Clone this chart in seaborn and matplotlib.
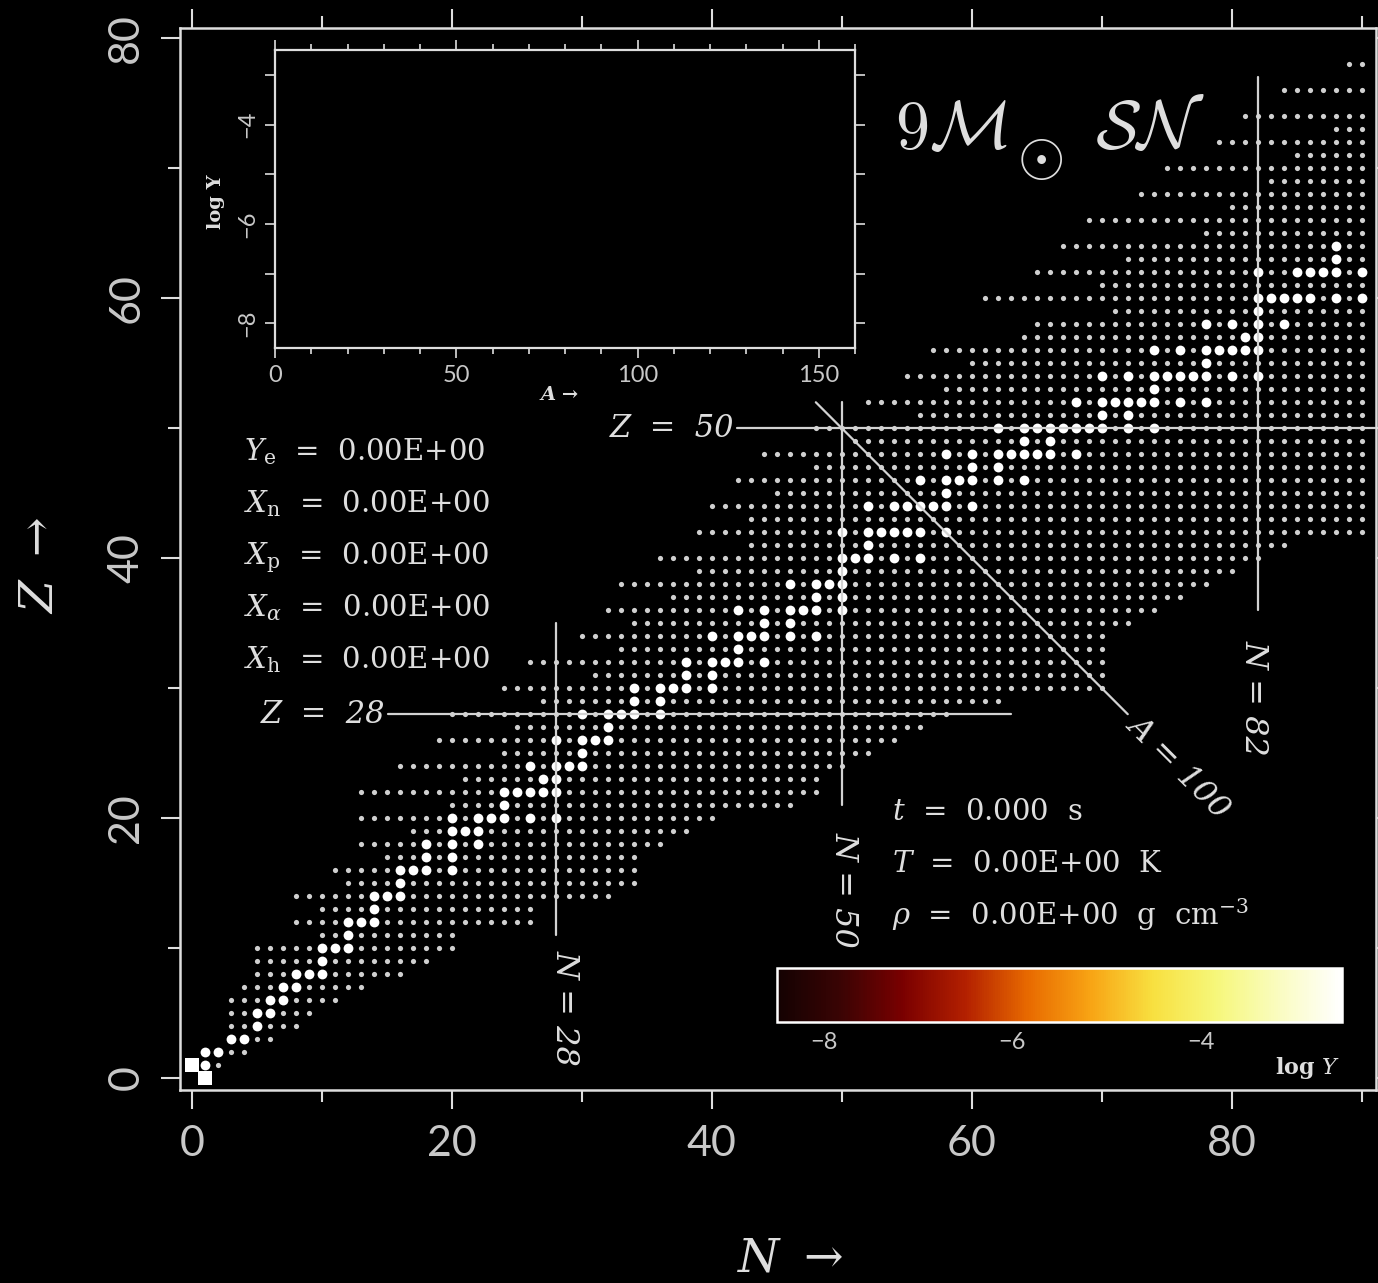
import numpy as np
import pandas as pd
import matplotlib
matplotlib.use("Agg")
import matplotlib.pyplot as plt
import seaborn as sns
from matplotlib.colors import LinearSegmentedColormap, Normalize
from matplotlib.cm import ScalarMappable
from matplotlib.ticker import MultipleLocator, FixedLocator

# ---------------- data ----------------
# network extent: for each proton number Z, lowest and highest neutron number N
ROW_Z = [1, 2, 3, 4, 5, 6, 7, 8, 9, 10, 11, 12, 13, 14, 15, 16, 17, 18, 19, 20,
         21, 22, 23, 24, 25, 26, 27, 28, 29, 30, 31, 32, 33, 34, 35, 36, 37, 38, 39, 40,
         41, 42, 43, 44, 45, 46, 47, 48, 49, 50, 51, 52, 53, 54, 55, 56, 57, 58, 59, 60,
         61, 62, 63, 64, 65, 66, 67, 68, 69, 70, 71, 72, 73, 74, 76, 78]
ROW_NMIN = [1, 1, 3, 3, 3, 3, 4, 5, 5, 5, 10, 8, 10, 8, 12, 11, 15, 13, 17, 13,
            20, 13, 21, 16, 24, 19, 25, 20, 27, 24, 31, 26, 33, 30, 34, 32, 37, 33, 39, 36,
            43, 39, 43, 40, 45, 42, 48, 44, 51, 48, 56, 52, 58, 55, 60, 57, 64, 65, 71, 61,
            70, 65, 72, 67, 78, 69, 80, 73, 83, 75, 85, 79, 88, 81, 84, 89]
ROW_NMAX = [2, 4, 6, 8, 9, 11, 13, 16, 18, 20, 20, 26, 26, 32, 34, 34, 34, 36, 38, 40,
            46, 48, 48, 50, 52, 54, 56, 58, 62, 70, 70, 70, 70, 70, 72, 74, 76, 78, 80, 82,
            84, 90, 90, 90, 90, 90, 90, 90, 90, 90, 90, 90, 90, 90, 90, 90, 90, 90, 90, 90,
            90, 90, 90, 90, 90, 90, 90, 90, 90, 90, 90, 90, 90, 90, 90, 90]

# stable isotopes (mass numbers) per Z -> drawn as large dots
STABLE_A = {
    1: [2], 2: [3, 4], 3: [6, 7], 4: [9], 5: [10, 11], 6: [12, 13], 7: [14, 15],
    8: [16, 17, 18], 9: [19], 10: [20, 21, 22], 11: [23], 12: [24, 25, 26], 13: [27],
    14: [28, 29, 30], 15: [31], 16: [32, 33, 34, 36], 17: [35, 37], 18: [36, 38, 40],
    19: [39, 40, 41], 20: [40, 42, 43, 44, 46, 48], 21: [45], 22: [46, 47, 48, 49, 50],
    23: [50, 51], 24: [50, 52, 53, 54], 25: [55], 26: [54, 56, 57, 58], 27: [59],
    28: [58, 60, 61, 62, 64], 29: [63, 65], 30: [64, 66, 67, 68, 70], 31: [69, 71],
    32: [70, 72, 73, 74, 76], 33: [75], 34: [74, 76, 77, 78, 80, 82], 35: [79, 81],
    36: [78, 80, 82, 83, 84, 86], 37: [85, 87], 38: [84, 86, 87, 88], 39: [89],
    40: [90, 91, 92, 94, 96], 41: [93], 42: [92, 94, 95, 96, 97, 98, 100],
    44: [96, 98, 99, 100, 101, 102, 104], 45: [103], 46: [102, 104, 105, 106, 108, 110],
    47: [107, 109], 48: [106, 108, 110, 111, 112, 113, 114, 116], 49: [113, 115],
    50: [112, 114, 115, 116, 117, 118, 119, 120, 122, 124], 51: [121, 123],
    52: [120, 122, 123, 124, 125, 126, 128, 130], 53: [127],
    54: [124, 126, 128, 129, 130, 131, 132, 134, 136], 55: [133],
    56: [130, 132, 134, 135, 136, 137, 138], 57: [138, 139], 58: [136, 138, 140, 142],
    59: [141], 60: [142, 143, 144, 145, 146, 148, 150], 62: [144, 147, 148, 149, 150, 152],
    63: [151], 64: [152],
}
SQUARE_N = [0, 1]      # hydrogen and free neutron
SQUARE_Z = [1, 0]

MAIN_TICKS = [0, 20, 40, 60, 80]
INSET_XTICKS = [0, 50, 100, 150]
INSET_YTICKS = [-8, -6, -4]
INSET_YLABELS = ["\u22128", "\u22126", "\u22124"]
CBAR_TICKS = [-8, -7, -6, -5, -4, -3]
CBAR_LABELS = ["\u22128", "", "\u22126", "", "\u22124", ""]
LOGY_MIN, LOGY_MAX = -8.5, -2.5
CMAP_COLORS = ["#140202", "#3a0404", "#7a0000", "#b32000", "#e86a00", "#f8a414",
               "#f8e040", "#f6f77a", "#fafcc0", "#ffffff"]

MAGIC_Z = [28, 50]
MAGIC_Z_NRANGE = [(15.1, 63.0), (41.9, 91.2)]
MAGIC_N = [28, 50, 82]
MAGIC_N_ZRANGE = [(11.0, 35.0), (21.0, 52.0), (36.0, 77.0)]
MAGIC_N_LABEL_DX = [0.7, 0.2, -0.3]
MAGIC_N_LABEL_TOP = [9.85, 18.9, 33.7]
A_LINE = 100
A_LINE_NRANGE = (48.0, 72.0)

LEFT_INFO = [r"$Y_{\mathrm{e}}$  =  0.00E+00", r"$X_{\mathrm{n}}$  =  0.00E+00",
             r"$X_{\mathrm{p}}$  =  0.00E+00", r"$X_{\alpha}$  =  0.00E+00",
             r"$X_{\mathrm{h}}$  =  0.00E+00"]
RIGHT_INFO = [r"$t$  =  0.000  s", r"$T$  =  0.00E+00  K",
              r"$\rho$  =  0.00E+00  g  cm$^{-3}$"]

# ---------------- build table ----------------
stable_pairs = set()
for z, alist in STABLE_A.items():
    for a in alist:
        stable_pairs.add((a - z, z))

recs = []
for z, lo, hi in zip(ROW_Z, ROW_NMIN, ROW_NMAX):
    for n in range(lo, hi + 1):
        recs.append((n, z))
for p in stable_pairs:
    if p not in recs:
        recs.append(p)
df = pd.DataFrame(recs, columns=["N", "Z"]).drop_duplicates()
df["stable"] = [(n, z) in stable_pairs for n, z in zip(df["N"], df["Z"])]
df_sq = pd.DataFrame({"N": SQUARE_N, "Z": SQUARE_Z})

# ---------------- style ----------------
sns.set_theme(style="dark")
FG = "#dedede"
plt.rcParams.update({
    "figure.facecolor": "black", "axes.facecolor": "black", "savefig.facecolor": "black",
    "axes.edgecolor": FG, "text.color": FG, "xtick.color": FG, "ytick.color": FG,
    "axes.grid": False, "mathtext.fontset": "dejavuserif",
    "xtick.bottom": True, "ytick.left": True,
})
plt.rcParams["font.family"] = ["Lato", "DejaVu Sans"]
SERIF = ["DejaVu Serif"]

W, H = 1378, 1283
fig = plt.figure(figsize=(W / 100, H / 100), dpi=100)

def fx(px):
    return px / W

def fy(py):
    return 1 - py / H

# ---------------- main axes ----------------
ax = fig.add_axes([fx(180), fy(1090), fx(1376) - fx(180), fy(28) - fy(1090)])
ax.set_facecolor("black")
sns.scatterplot(data=df[~df["stable"]], x="N", y="Z", s=14, color="#d0d0d0",
                linewidth=0, ax=ax, legend=False, zorder=2)
sns.scatterplot(data=df[df["stable"]], x="N", y="Z", s=50, color="#ffffff",
                linewidth=0, ax=ax, legend=False, zorder=3)
sns.scatterplot(data=df_sq, x="N", y="Z", s=100, marker="s", color="#ffffff",
                linewidth=0, ax=ax, legend=False, zorder=3)
ax.set_xlim(-0.92, 91.1)
ax.set_ylim(-0.92, 80.8)
ax.set_xlabel("")
ax.set_ylabel("")

for s in ax.spines.values():
    s.set_color(FG)
    s.set_linewidth(1.8)
ax.xaxis.set_major_locator(FixedLocator(MAIN_TICKS))
ax.yaxis.set_major_locator(FixedLocator(MAIN_TICKS))
ax.xaxis.set_minor_locator(MultipleLocator(10))
ax.yaxis.set_minor_locator(MultipleLocator(10))
ax.tick_params(which="both", direction="out", top=True, right=True, bottom=True,
               left=True, color=FG, width=1.5)
ax.tick_params(which="major", length=14)
ax.tick_params(which="minor", length=8.5)
ax.tick_params(axis="x", which="major", pad=11, labelsize=31, labelcolor="#c8c8c8")
ax.tick_params(axis="y", which="major", pad=11, labelsize=31, labelcolor="#c8c8c8")
for lbl in ax.get_yticklabels():
    lbl.set_rotation(90)
    lbl.set_va("center")

LC = "#d2d2d2"
LW = 1.6
for z, (n0, n1) in zip(MAGIC_Z, MAGIC_Z_NRANGE):
    ax.plot([n0, n1], [z, z], color=LC, lw=LW, zorder=4)
    ax.text(n0 - 0.2, z, f"Z  =  {z}", ha="right", va="center", fontsize=22,
            family=SERIF, style="italic", color=FG)
for n, (z0, z1), dx, top in zip(MAGIC_N, MAGIC_N_ZRANGE, MAGIC_N_LABEL_DX, MAGIC_N_LABEL_TOP):
    ax.plot([n, n], [z0, z1], color=LC, lw=LW, zorder=4)
    ax.text(n + dx, top, f"N = {n}", ha="center", va="top", rotation=-90,
            fontsize=23, family=SERIF, style="italic", color=FG)
an0, an1 = A_LINE_NRANGE
ax.plot([an0, an1], [A_LINE - an0, A_LINE - an1], color=LC, lw=LW, zorder=4)
ax.text(an1 + 3.9, A_LINE - an1 - 4.0, f"A = {A_LINE}", ha="center", va="center",
        rotation=-45, rotation_mode="anchor", fontsize=23, family=SERIF,
        style="italic", color=FG)

# ---------------- inset ----------------
ins = fig.add_axes([fx(275), fy(348), fx(855) - fx(275), fy(50) - fy(348)])
ins.set_facecolor("black")
ins.set_xlim(0, 160)
ins.set_ylim(LOGY_MIN, LOGY_MAX)
for s in ins.spines.values():
    s.set_color(FG)
    s.set_linewidth(1.6)
ins.xaxis.set_major_locator(FixedLocator(INSET_XTICKS))
ins.xaxis.set_minor_locator(MultipleLocator(10))
ins.yaxis.set_major_locator(FixedLocator(INSET_YTICKS))
ins.yaxis.set_minor_locator(MultipleLocator(1))
ins.tick_params(which="both", direction="out", top=True, right=True, bottom=True,
                left=True, color=FG, width=1.2)
ins.tick_params(axis="x", which="major", length=7, pad=5, labelsize=17, labelcolor="#c8c8c8")
ins.tick_params(axis="x", which="minor", length=4)
ins.tick_params(axis="y", which="both", length=7, pad=5, labelsize=17, labelcolor="#c8c8c8")
ins.set_yticklabels(INSET_YLABELS)
for lbl in ins.get_yticklabels():
    lbl.set_rotation(90)
    lbl.set_va("center")
fig.text(fx(560), fy(395), "A \u2192", ha="center", va="center", fontsize=14,
         family=SERIF, style="italic", weight="bold", color=FG)
fig.text(fx(216), fy(202), "log Y", ha="center", va="center", rotation=90,
         fontsize=14, family=SERIF, weight="bold", color=FG)

# ---------------- colorbar ----------------
cmap = LinearSegmentedColormap.from_list("abund", CMAP_COLORS)
cax = fig.add_axes([fx(777), fy(1022), fx(1342) - fx(777), fy(968) - fy(1022)])
sm = ScalarMappable(norm=Normalize(LOGY_MIN, LOGY_MAX), cmap=cmap)
cb = fig.colorbar(sm, cax=cax, orientation="horizontal")
cb.outline.set_edgecolor("white")
cb.outline.set_linewidth(1.8)
cb.set_ticks(CBAR_TICKS)
cb.set_ticklabels(CBAR_LABELS)
cax.tick_params(axis="x", which="major", direction="in", top=True, bottom=True,
                length=6, width=1.2, color="white", pad=7, labelsize=17,
                labelcolor="#c8c8c8")
cax.minorticks_off()
fig.text(fx(1340), fy(1068), "log $Y$", ha="right", va="center", fontsize=16,
         family=SERIF, weight="bold", color=FG)

# ---------------- texts ----------------
for i, line in enumerate(LEFT_INFO):
    fig.text(fx(244), fy(460 + 52 * i), line, ha="left", va="baseline",
             fontsize=21, family=SERIF, color=FG)
for i, line in enumerate(RIGHT_INFO):
    fig.text(fx(892), fy(820 + 52.5 * i), line, ha="left", va="baseline",
             fontsize=21, family=SERIF, color=FG)

fig.text(fx(895), fy(148), r"$9\mathcal{M}$", ha="left", va="baseline",
         fontsize=49, math_fontfamily="cm", color=FG)
fig.text(fx(1040), fy(157), r"$\odot$", ha="center", va="center",
         fontsize=44, math_fontfamily="cm", color=FG)
fig.text(fx(1095), fy(148), r"$\mathcal{SN}$", ha="left", va="baseline",
         fontsize=49, math_fontfamily="cm", color=FG)

fig.text(fx(790), fy(1258), r"$N\ \rightarrow$", ha="center", va="center",
         fontsize=34, color=FG)
fig.text(fx(40), fy(565), r"$Z\ \rightarrow$", ha="center", va="center",
         rotation=90, fontsize=34, color=FG)

fig.savefig("out.png", dpi=100, facecolor="black")
